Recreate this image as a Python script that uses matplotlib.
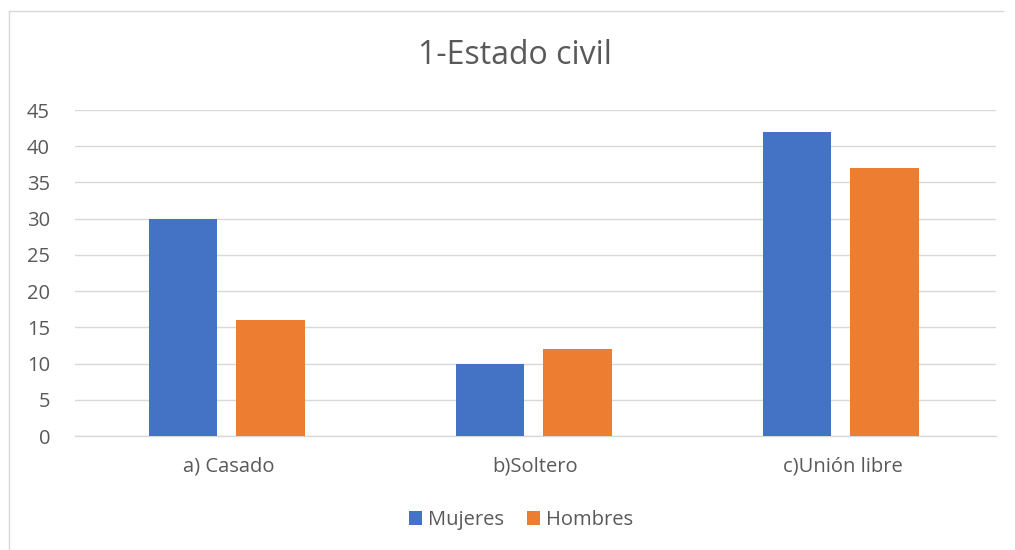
import matplotlib
matplotlib.use("Agg")
import matplotlib.pyplot as plt
import numpy as np
from matplotlib.lines import Line2D

categories = ["a) Casado", "b)Soltero", "c)Unión libre"]
mujeres = [30, 10, 42]
hombres = [16, 12, 37]
yticks = [0, 5, 10, 15, 20, 25, 30, 35, 40, 45]

plt.rcParams['font.family'] = ['Open Sans', 'DejaVu Sans']
text_color = "#595959"

fig = plt.figure(figsize=(10.15, 5.5), dpi=100)
ax = fig.add_axes([75 / 1015, 1 - 436 / 550, 921 / 1015, 326 / 550])

x = np.arange(len(categories))
w = 0.223
ax.bar(x - 0.149, mujeres, w, color="#4472C4", label="Mujeres", zorder=3)
ax.bar(x + 0.137, hombres, w, color="#ED7D31", label="Hombres", zorder=3)

ax.set_xlim(-0.5, 2.5)
ax.set_ylim(0, 45)
ax.set_yticks(yticks)
ax.set_xticks(x)
ax.set_xticklabels(categories)
ax.grid(axis="y", color="#D9D9D9", linewidth=1, zorder=0)
for s in ["top", "right", "left"]:
    ax.spines[s].set_visible(False)
ax.spines["bottom"].set_color("#D9D9D9")
ax.spines["bottom"].set_linewidth(1)
ax.tick_params(axis="both", length=0, labelsize=14.5, colors=text_color)
ax.tick_params(axis="y", pad=18)
ax.tick_params(axis="x", pad=15)

fig.text(515 / 1015, 1 - 55 / 550, "1-Estado civil", fontsize=23, color=text_color,
         ha="center", va="center")

ax.legend(loc="center", bbox_to_anchor=(521 / 1015, 1 - 520 / 550), bbox_transform=fig.transFigure,
          ncol=2, frameon=False, fontsize=14.5, labelcolor=text_color,
          handlelength=0.65, handleheight=0.65, handletextpad=0.3, columnspacing=1.1)

# chart border
fig.add_artist(Line2D([9 / 1015, 9 / 1015], [0, 1 - 11 / 550], transform=fig.transFigure,
                      color="#D9D9D9", linewidth=1))
fig.add_artist(Line2D([9 / 1015, 1003 / 1015], [1 - 11 / 550, 1 - 11 / 550], transform=fig.transFigure,
                      color="#D9D9D9", linewidth=1))

fig.savefig("out.png", dpi=100)
